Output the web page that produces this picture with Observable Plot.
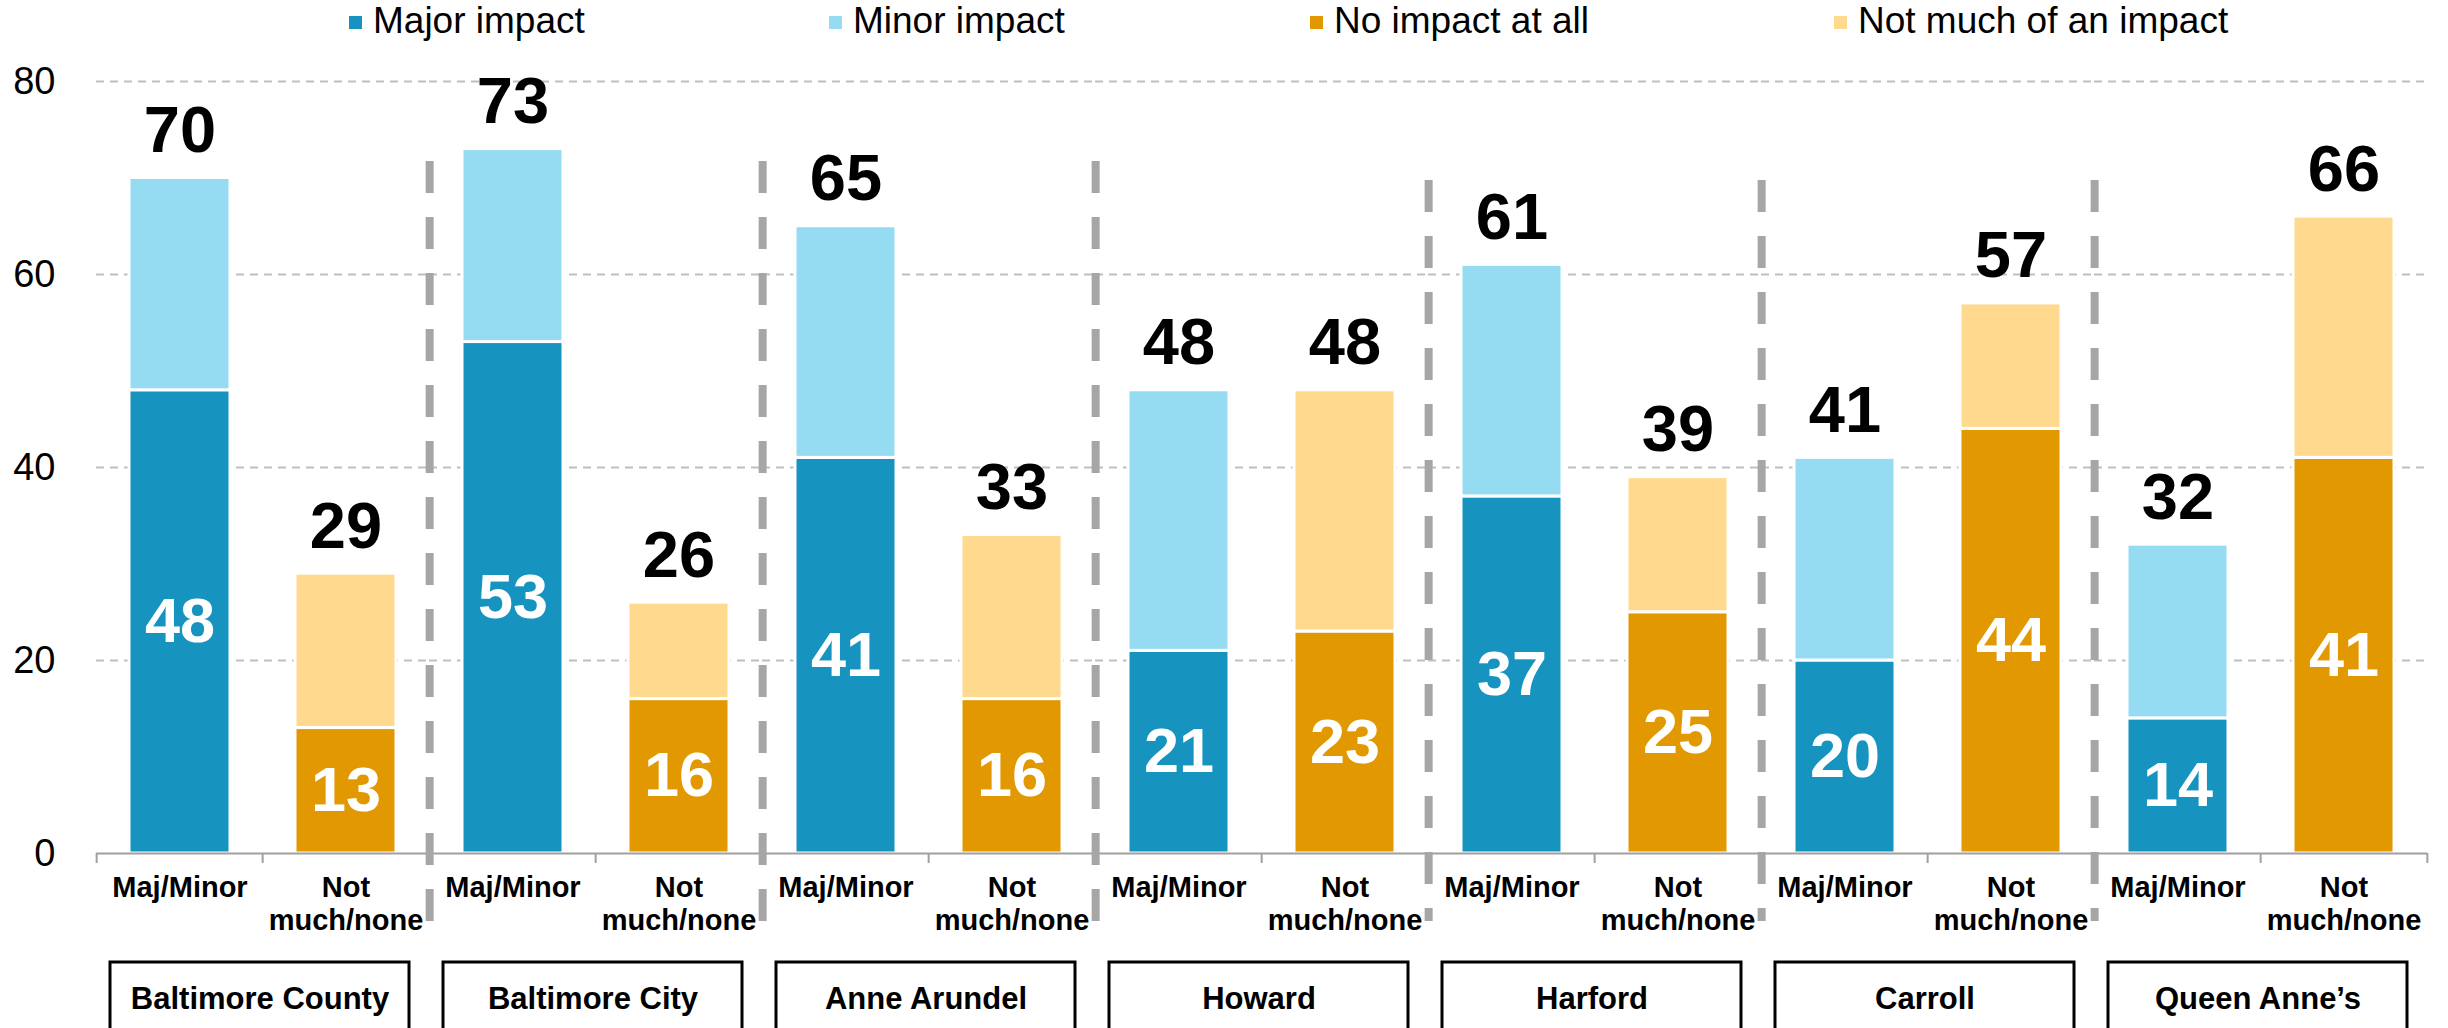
<!DOCTYPE html>
<html>
<head>
<meta charset="utf-8">
<script src="https://cdn.jsdelivr.net/npm/d3@7"></script>
<script src="https://cdn.jsdelivr.net/npm/@observablehq/plot@0.6"></script>
<style>
  html, body { margin: 0; padding: 0; background: #fff; overflow: hidden; }
  #legend { position: relative; width: 2448px; height: 48px; font-family: "Liberation Sans", Arial, sans-serif; font-size: 37px; color: #000; }
  .item { position: absolute; top: 0; height: 42px; display: flex; align-items: center; white-space: nowrap; }
  .sw { width: 13px; height: 13px; margin-right: 11px; margin-top: 2px; }
  #chart svg { display: block; }
</style>
</head>
<body>
<div id="legend"></div>
<div id="chart"></div>
<script>
// ---- data ----
const counties = ["Baltimore County", "Baltimore City", "Anne Arundel", "Howard", "Harford", "Carroll", "Queen Anne’s"];
const types = ["Maj/Minor", "Not much/none"];
const typeLabels = ["Maj/Minor", "Not\nmuch/none"];
const segments = ["Major impact", "Minor impact", "No impact at all", "Not much of an impact"];
const segmentColors = ["#1793c0", "#95dbf2", "#e29800", "#fed98e"];
const majorImpact = [48, 53, 41, 21, 37, 20, 14];
const minorImpact = [22, 20, 24, 27, 24, 21, 18];
const noImpact = [13, 16, 16, 23, 25, 44, 41];
const notMuchImpact = [16, 10, 17, 25, 14, 13, 25];
const totalMajMinor = [70, 73, 65, 48, 61, 41, 32];
const totalNotMuchNone = [29, 26, 33, 48, 39, 57, 66];
const yTicks = [0, 20, 40, 60, 80];

// ---- tables built from the arrays ----
const rows = [];
counties.forEach((c, i) => {
  rows.push({county: c, type: types[0], segment: segments[0], value: majorImpact[i], bottom: true});
  rows.push({county: c, type: types[0], segment: segments[1], value: minorImpact[i], bottom: false});
  rows.push({county: c, type: types[1], segment: segments[2], value: noImpact[i], bottom: true});
  rows.push({county: c, type: types[1], segment: segments[3], value: notMuchImpact[i], bottom: false});
});
const totals = [];
counties.forEach((c, i) => {
  totals.push({county: c, type: types[0], total: totalMajMinor[i]});
  totals.push({county: c, type: types[1], total: totalNotMuchNone[i]});
});
const slots = totals.map(d => ({county: d.county, type: d.type, label: typeLabels[types.indexOf(d.type)]}));

// ---- legend ----
const legendX = [349, 829, 1310, 1834];
const legend = document.getElementById("legend");
segments.forEach((s, i) => {
  const it = document.createElement("div");
  it.className = "item";
  it.style.left = legendX[i] + "px";
  const sw = document.createElement("span");
  sw.className = "sw";
  sw.style.background = segmentColors[i];
  const tx = document.createElement("span");
  tx.textContent = s;
  it.appendChild(sw); it.appendChild(tx);
  legend.appendChild(it);
});

// ---- layout ----
const W = 2448, H = 980, ml = 94, mr = 20, mt = 33, mb = 175;
const facetW = (W - ml - mr) / counties.length;
const slotW = facetW / 2;
const pxPerUnit = (H - mt - mb) / 80;
const px = p => p / pxPerUnit; // pixels -> data units (for items below the axis)
const font = "Liberation Sans, Arial, sans-serif";

const chart = Plot.plot({
  width: W,
  height: H,
  marginLeft: ml,
  marginRight: mr,
  marginTop: mt,
  marginBottom: mb,
  style: {fontFamily: font, background: "#fff", color: "#000"},
  fx: {domain: counties, padding: 0, axis: null},
  x: {domain: types, paddingInner: 0.394, paddingOuter: 0.197, axis: null},
  y: {domain: [0, 80]},
  color: {domain: segments, range: segmentColors},
  marks: [
    Plot.gridY([20, 40, 60, 80], {stroke: "#bfbfbf", strokeOpacity: 1, strokeWidth: 2, strokeDasharray: "8,6"}),
    Plot.axisY({ticks: yTicks, tickSize: 0, tickPadding: 41, fontSize: 38, label: null, fill: "#000"}),
    Plot.barY(rows, Plot.stackY({fx: "county", x: "type", y: "value", fill: "segment", stroke: "#fff", strokeWidth: 3})),
    Plot.ruleY([0], {stroke: "#a0a0a0", strokeWidth: 2}),
    // tick marks at slot boundaries
    Plot.ruleX(slots, {fx: "county", x: "type", dx: -slotW / 2, y1: 0, y2: -px(10), stroke: "#a0a0a0", strokeWidth: 2}),
    Plot.ruleX(slots.slice(-1), {fx: "county", x: "type", dx: slotW / 2, y1: 0, y2: -px(10), stroke: "#a0a0a0", strokeWidth: 2}),
    // dashed group separators
    Plot.ruleX(counties.slice(1), {
      fx: d => d, x: () => types[0], dx: -slotW / 2,
      y1: (d, i) => i < 3 ? px(853 - 161) : px(853 - 180),
      y2: -px(921 - 853),
      stroke: "#a6a6a6", strokeWidth: 8, strokeDasharray: "32,24"
    }),
    // values inside bottom segments
    Plot.text(rows.filter(d => d.bottom), {fx: "county", x: "type", y: d => d.value / 2, text: d => String(d.value),
      fill: "#fff", fontSize: 63, fontWeight: "bold", fontFamily: font, lineAnchor: "middle"}),
    // totals above bars
    Plot.text(totals, {fx: "county", x: "type", y: "total", text: d => String(d.total),
      fill: "#000", fontSize: 65, fontWeight: "bold", fontFamily: font, lineAnchor: "bottom", dy: -26}),
    // category labels
    Plot.text(slots, {fx: "county", x: "type", y: 0, text: "label", lineAnchor: "top", dy: 20, lineHeight: 1.14,
      fill: "#000", fontSize: 29, fontWeight: "bold", fontFamily: font}),
    // county boxes
    Plot.rect(counties, {fx: d => d, y1: -px(962 - 853), y2: -px(1040 - 853), insetLeft: 14, insetRight: 20,
      fill: "none", stroke: "#000", strokeWidth: 3}),
    Plot.text(counties, {fx: d => d, y: -px(962 - 853), dy: 46, dx: -3, text: d => d, lineAnchor: "bottom",
      fill: "#000", fontSize: 31, fontWeight: "bold", fontFamily: font})
  ]
});
document.getElementById("chart").appendChild(chart);
</script>
</body>
</html>
